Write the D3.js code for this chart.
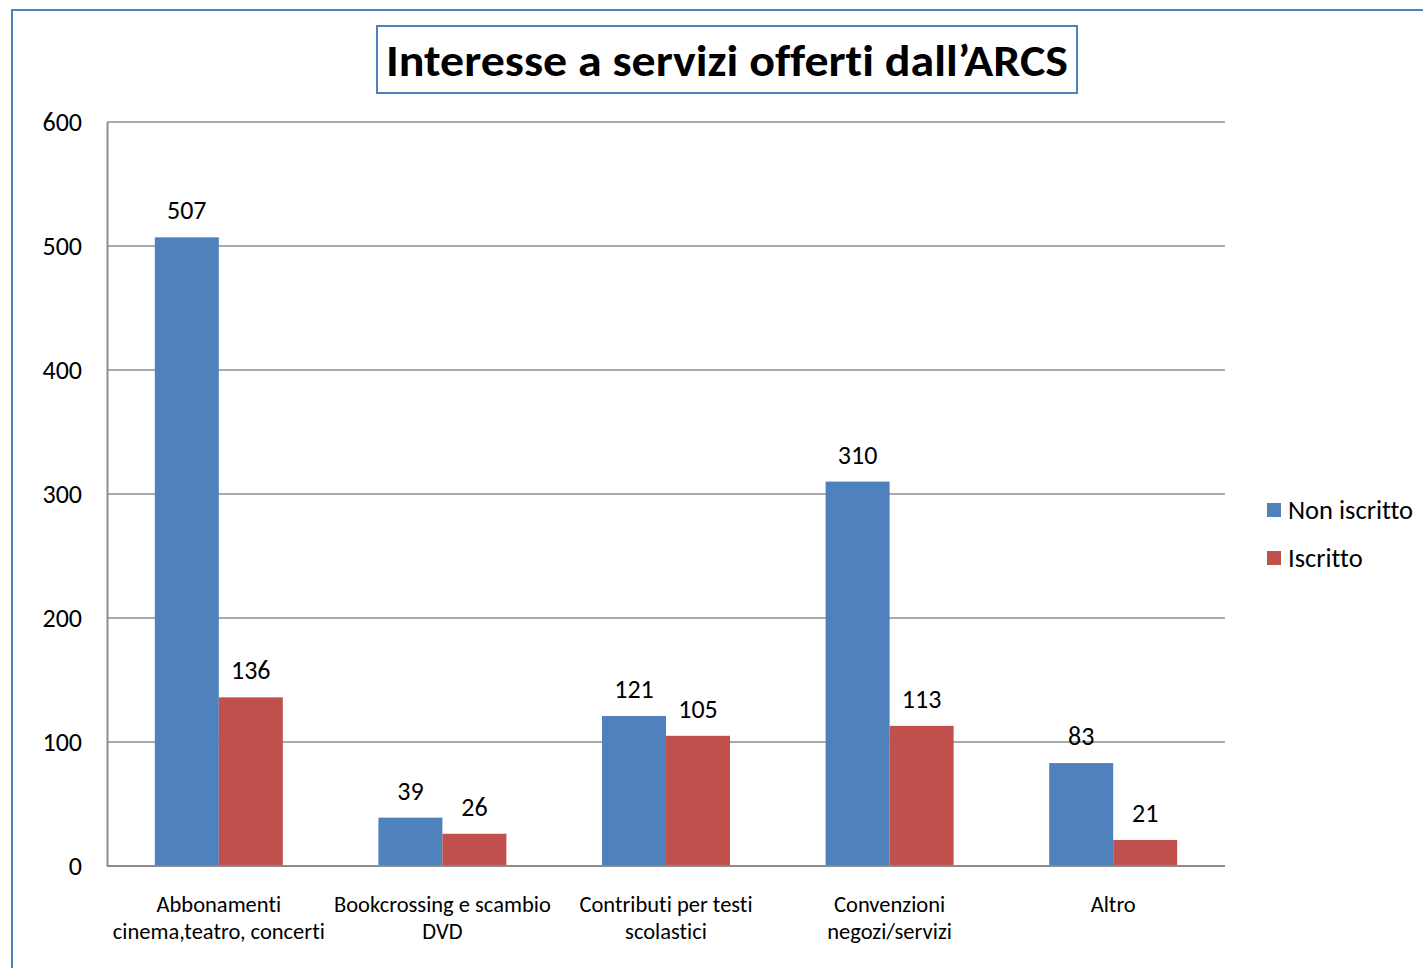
<!DOCTYPE html>
<html>
<head>
<meta charset="utf-8">
<script src="https://cdn.jsdelivr.net/npm/d3@7"></script>
<style>
  body { margin: 0; background: #fff; }
  svg { font-family: Carlito, Calibri, "Open Sans", sans-serif; font-variant-ligatures: none; }
</style>
</head>
<body>
<svg id="chart"></svg>
<script>
"use strict";

var svg_width = 1423;
var svg_height = 968;

var categories = [
    ["Abbonamenti", "cinema,teatro, concerti"],
    ["Bookcrossing e scambio", "DVD"],
    ["Contributi per testi", "scolastici"],
    ["Convenzioni", "negozi/servizi"],
    ["Altro"]
];
var seriesNames = ["Non iscritto", "Iscritto"];
var nonIscritto = [507, 39, 121, 310, 83];
var iscritto = [136, 26, 105, 113, 21];
var yTicks = [0, 100, 200, 300, 400, 500, 600];
var colors = ["#4F81BD", "#C0504D"];

var svg = d3.select("#chart")
    .attr("width", svg_width)
    .attr("height", svg_height);

// outer frame
svg.append("rect")
    .attr("x", 12).attr("y", 10)
    .attr("width", svg_width + 20).attr("height", svg_height + 20)
    .attr("fill", "none")
    .attr("stroke", "#4F81BD")
    .attr("stroke-width", 2);

// title box
svg.append("rect")
    .attr("x", 377).attr("y", 26)
    .attr("width", 700).attr("height", 67)
    .attr("fill", "#fff")
    .attr("stroke", "#4F81BD")
    .attr("stroke-width", 2);
svg.append("text")
    .attr("x", 727).attr("y", 76)
    .attr("text-anchor", "middle")
    .attr("font-size", 44)
    .attr("font-weight", "bold")
    .attr("textLength", 682)
    .attr("lengthAdjust", "spacingAndGlyphs")
    .text("Interesse a servizi offerti dall\u2019ARCS");

var plotLeft = 107, plotRight = 1225, plotTop = 122, plotBottom = 866;

var xScale = d3.scaleBand()
    .domain(d3.range(categories.length))
    .range([plotLeft, plotRight])
    .padding(0);
var xInner = d3.scaleBand()
    .domain(d3.range(seriesNames.length))
    .range([0, xScale.bandwidth()])
    .paddingInner(0)
    .paddingOuter(0.747);
var yScale = d3.scaleLinear()
    .domain([0, 600])
    .range([plotBottom, plotTop]);

// gridlines
svg.append("g")
    .attr("class", "grid")
    .selectAll("line")
    .data(yTicks.filter(function(d) {return d > 0;}))
    .enter().append("line")
    .attr("x1", plotLeft).attr("x2", plotRight)
    .attr("y1", function(d) {return yScale(d);})
    .attr("y2", function(d) {return yScale(d);})
    .attr("stroke", "#8c8c8c")
    .attr("stroke-width", 1.5);

// y axis
var yAxis = svg.append("g")
    .attr("transform", "translate(" + plotLeft + ",0)")
    .call(d3.axisLeft(yScale).tickValues(yTicks).tickSize(0).tickPadding(25));
yAxis.select(".domain").attr("stroke", "#8c8c8c").attr("stroke-width", 2);
yAxis.selectAll("text")
    .attr("font-size", 26)
    .attr("fill", "#000")
    .attr("dy", "0.32em")
    .style("font-family", "Carlito, Calibri, 'Open Sans', sans-serif");

// bars
var seriesData = [nonIscritto, iscritto];
var groups = svg.append("g").selectAll("g")
    .data(seriesData)
    .enter().append("g")
    .attr("fill", function(d, i) {return colors[i];});

groups.selectAll("rect")
    .data(function(d, s) {return d.map(function(v, i) {return {s: s, i: i, v: v};});})
    .enter().append("rect")
    .attr("x", function(d) {return xScale(d.i) + xInner(d.s);})
    .attr("y", function(d) {return yScale(d.v);})
    .attr("width", xInner.bandwidth())
    .attr("height", function(d) {return yScale(0) - yScale(d.v);});

groups.selectAll("text")
    .data(function(d, s) {return d.map(function(v, i) {return {s: s, i: i, v: v};});})
    .enter().append("text")
    .attr("x", function(d) {return xScale(d.i) + xInner(d.s) + xInner.bandwidth() / 2;})
    .attr("y", function(d) {return yScale(d.v) - 18;})
    .attr("text-anchor", "middle")
    .attr("font-size", 26)
    .attr("fill", "#000")
    .text(function(d) {return d.v;});

// x axis line
svg.append("line")
    .attr("x1", plotLeft).attr("x2", plotRight)
    .attr("y1", plotBottom).attr("y2", plotBottom)
    .attr("stroke", "#8c8c8c")
    .attr("stroke-width", 2);

// category labels
var catLabels = svg.append("g").selectAll("text")
    .data(categories)
    .enter().append("text")
    .attr("text-anchor", "middle")
    .attr("font-size", 22.5)
    .attr("fill", "#000")
    .attr("transform", function(d, i) {
        return "translate(" + (xScale(i) + xScale.bandwidth() / 2) + "," + 912 + ")";
    });
catLabels.selectAll("tspan")
    .data(function(d) {return d;})
    .enter().append("tspan")
    .attr("x", 0)
    .attr("y", function(d, i) {return i * 27;})
    .text(function(d) {return d;});

// legend
var legend = svg.append("g").selectAll("g")
    .data(seriesNames)
    .enter().append("g")
    .attr("transform", function(d, i) {return "translate(1267," + (503 + i * 48) + ")";});
legend.append("rect")
    .attr("width", 14).attr("height", 14)
    .attr("fill", function(d, i) {return colors[i];});
legend.append("text")
    .attr("x", 21).attr("y", 7)
    .attr("dy", "0.35em")
    .attr("font-size", 26.5)
    .attr("fill", "#000")
    .text(function(d) {return d;});
</script>
</body>
</html>
